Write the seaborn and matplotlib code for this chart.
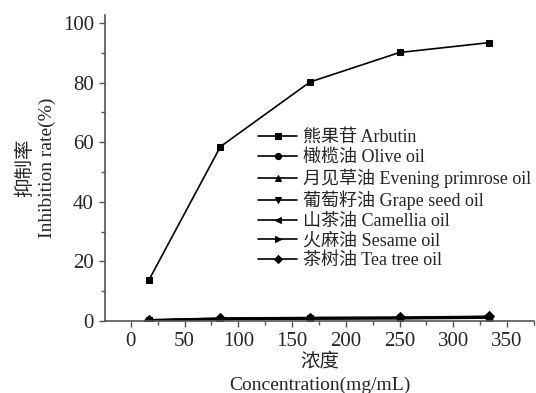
import numpy as np
import pandas as pd
import seaborn as sns
import matplotlib.pyplot as plt
from matplotlib.ticker import MultipleLocator

# concentration (mg/mL)
conc = [16.7, 83.3, 166.7, 250.0, 333.3]

names = ["熊果苷 Arbutin", "橄榄油 Olive oil", "月见草油 Evening primrose oil",
         "葡萄籽油 Grape seed oil", "山茶油 Camellia oil", "火麻油 Sesame oil",
         "茶树油 Tea tree oil"]

arbutin = [13.7, 58.5, 80.2, 90.1, 93.4]
olive = [0.2, 0.6, 0.8, 0.9, 1.2]
primrose = [0.4, 0.9, 1.1, 1.2, 1.5]
grape = [0.3, 0.7, 0.9, 1.0, 1.3]
camellia = [0.2, 0.5, 0.7, 0.8, 1.0]
sesame = [0.3, 0.8, 1.0, 1.1, 1.4]
teatree = [0.4, 1.0, 1.2, 1.3, 1.6]

series = [arbutin, olive, primrose, grape, camellia, sesame, teatree]
marker_list = ["s", "o", "^", "v", "<", ">", "D"]

rows = []
for name, vals in zip(names, series):
    for c, v in zip(conc, vals):
        rows.append({"conc": c, "rate": v, "oil": name})
df = pd.DataFrame(rows)

sns.set_style("ticks")
plt.rcParams['font.family'] = ['Liberation Serif', 'Noto Sans CJK SC']
plt.rcParams['axes.unicode_minus'] = False

fig = plt.figure(figsize=(5.36, 3.93), dpi=100)
ax = fig.add_axes([0.196, 0.183, 0.80, 0.779])

sns.lineplot(data=df, x="conc", y="rate", hue="oil", style="oil",
             hue_order=names, style_order=names,
             palette=["black"] * len(names), markers=marker_list, dashes=False,
             markersize=5, linewidth=1.2, markeredgecolor="black", ax=ax)

ax.set_xlim(-24, 375)
ax.set_ylim(0, 102.7)
ax.xaxis.set_major_locator(MultipleLocator(50))
ax.xaxis.set_minor_locator(MultipleLocator(25))
ax.yaxis.set_major_locator(MultipleLocator(20))
ax.yaxis.set_minor_locator(MultipleLocator(10))
ax.tick_params(which="both", direction="out", labelsize=15, width=1, color="#555555")
ax.tick_params(which="major", length=4, pad=4)
ax.tick_params(which="minor", length=3)
for s in ["top", "right"]:
    ax.spines[s].set_visible(False)
for s in ["left", "bottom"]:
    ax.spines[s].set_color("#555555")
    ax.spines[s].set_linewidth(1.2)

ax.set_xlabel("浓度\nConcentration(mg/mL)", fontsize=14, labelpad=1, linespacing=1.45)
ax.set_ylabel("抑制率\nInhibition rate(%)", fontsize=14, labelpad=5, linespacing=1.3)

leg = ax.legend(loc="upper left", bbox_to_anchor=(0.356, 0.627), frameon=False,
                fontsize=13, handlelength=2.2, handletextpad=0.3,
                labelspacing=0.15, borderaxespad=0, borderpad=0)
for h in leg.legend_handles:
    h.set_markersize(4.5)

fig.savefig("out.png", dpi=100)
